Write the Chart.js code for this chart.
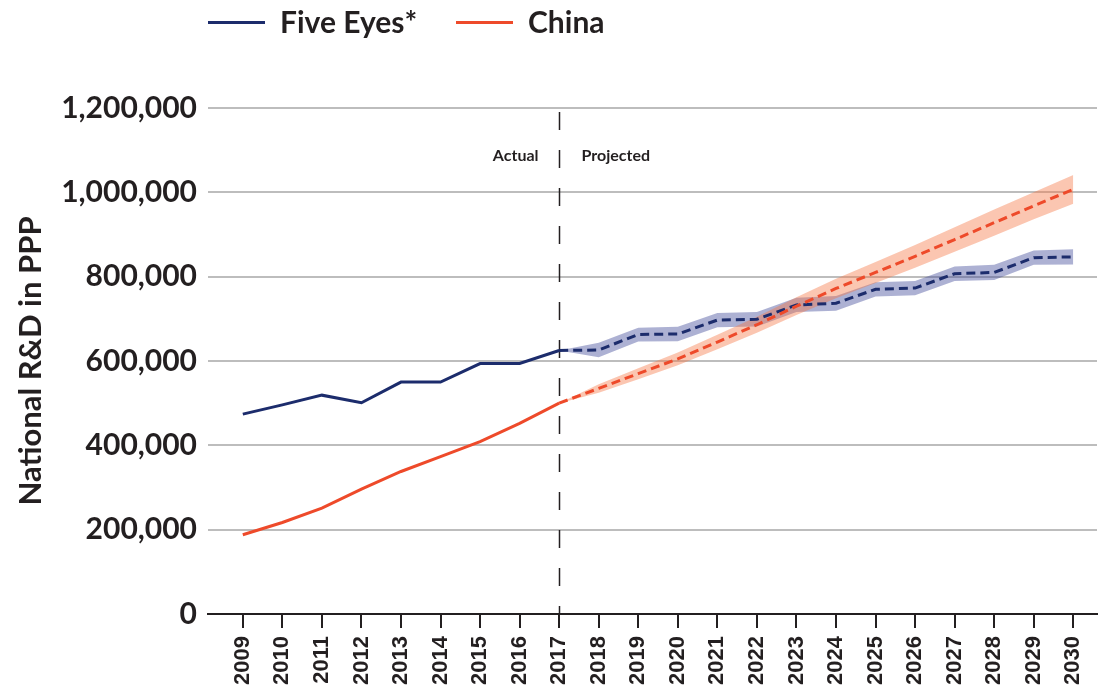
<!DOCTYPE html>
<html>
<head>
<meta charset="utf-8">
<script src="https://cdn.jsdelivr.net/npm/chart.js@4.4.0/dist/chart.umd.min.js"></script>
<style>
  html, body { margin: 0; padding: 0; background: #fff; }
  #wrap { width: 1099px; height: 690px; }
</style>
</head>
<body>
<div id="wrap"><canvas id="chart"></canvas></div>
<script>
// data
const years = [2009, 2010, 2011, 2012, 2013, 2014, 2015, 2016, 2017, 2018, 2019,
               2020, 2021, 2022, 2023, 2024, 2025, 2026, 2027, 2028, 2029, 2030];
const actualYears = [2009, 2010, 2011, 2012, 2013, 2014, 2015, 2016, 2017];
const projectedYears = [2017, 2018, 2019, 2020, 2021, 2022, 2023, 2024, 2025, 2026, 2027, 2028, 2029, 2030];

const fiveEyesActual = [474000, 496000, 519000, 501000, 550000, 550000, 594000, 594000, 625000];
const fiveEyesProjected = [625000, 626000, 663000, 664000, 697000, 699000, 733000, 737000, 770000, 773000, 807000, 810000, 845000, 847000];
const fiveEyesLow = [625000, 609000, 646000, 647000, 680000, 682000, 716000, 719000, 753000, 756000, 790000, 792000, 828000, 829000];
const fiveEyesHigh = [625000, 643000, 679000, 681000, 714000, 716000, 750000, 754000, 787000, 790000, 824000, 828000, 862000, 865000];

const chinaActual = [188000, 217000, 251000, 296000, 338000, 373000, 409000, 452000, 500000];
const chinaProjected = [500000, 535000, 570000, 605000, 645000, 686000, 730000, 772000, 810000, 848000, 888000, 928000, 968000, 1007000];
const chinaLow = [500000, 525000, 557000, 590000, 628000, 667000, 709000, 749000, 785000, 821000, 859000, 897000, 936000, 973000];
const chinaHigh = [500000, 545000, 583000, 620000, 662000, 705000, 751000, 795000, 835000, 875000, 917000, 959000, 1000000, 1041000];

const yTicks = [0, 200000, 400000, 600000, 800000, 1000000, 1200000];

const NAVY = '#1c2c6c';
const RED = '#ee4a2a';
const INK = '#231f20';

function pts(xs, ys) {
    return xs.map((x, i) => ({ x: x, y: ys[i] }));
}

// vertical divider + Actual / Projected
const dividerPlugin = {
    id: 'divider',
    beforeDatasetsDraw(chart) {
        const { ctx, chartArea, scales } = chart;
        const x = Math.round(scales.x.getPixelForValue(2017)) + 0.5;
        ctx.save();
        ctx.strokeStyle = INK;
        ctx.lineWidth = 1.5;
        ctx.setLineDash([18, 20]);
        ctx.beginPath();
        ctx.moveTo(x, chartArea.top + 4);
        ctx.lineTo(x, chartArea.bottom);
        ctx.stroke();
        ctx.setLineDash([]);
        ctx.fillStyle = INK;
        ctx.font = 'bold 16px Lato';
        ctx.textBaseline = 'middle';
        ctx.textAlign = 'right';
        ctx.fillText('Actual', x - 21, 156);
        ctx.textAlign = 'left';
        ctx.fillText('Projected', x + 22, 156);
        ctx.restore();
    }
};

// legend at the top
const legendPlugin = {
    id: 'topLegend',
    afterDraw(chart) {
        const { ctx, chartArea } = chart;
        const items = [['Five Eyes*', NAVY, 0], ['China', RED, 248]];
        ctx.save();
        ctx.font = 'bold 30px Lato';
        ctx.textBaseline = 'middle';
        ctx.textAlign = 'left';
        items.forEach(it => {
            const x0 = chartArea.left + it[2];
            ctx.fillStyle = it[1];
            ctx.fillRect(x0, 21, 57, 3);
            ctx.fillStyle = INK;
            ctx.fillText(it[0], x0 + 72, 23);
        });
        ctx.restore();
    }
};

const line = (label, data, color, dashed, order) => ({
    label: label,
    data: data,
    borderColor: color,
    borderWidth: 3,
    borderDash: dashed ? [9, 5] : [],
    pointRadius: 0,
    fill: false,
    tension: 0,
    order: order
});

const band = (data, color, fillTo, order) => ({
    data: data,
    borderWidth: 0,
    borderColor: 'rgba(0,0,0,0)',
    backgroundColor: color,
    pointRadius: 0,
    fill: fillTo,
    tension: 0,
    order: order
});

new Chart(document.getElementById('chart'), {
    type: 'line',
    data: {
        datasets: [
            line('Five Eyes*', pts(actualYears, fiveEyesActual), NAVY, false, 2),
            line('Five Eyes* projected', pts(projectedYears, fiveEyesProjected), NAVY, true, 2),
            line('China', pts(actualYears, chinaActual), RED, false, 1),
            line('China projected', pts(projectedYears, chinaProjected), RED, true, 1),
            band(pts(projectedYears, fiveEyesHigh), 'rgba(60,70,150,0.42)', '+1', 10),
            band(pts(projectedYears, fiveEyesLow), 'rgba(0,0,0,0)', false, 10),
            band(pts(projectedYears, chinaHigh), 'rgba(245,120,70,0.42)', '+1', 9),
            band(pts(projectedYears, chinaLow), 'rgba(0,0,0,0)', false, 9)
        ]
    },
    options: {
        responsive: true,
        maintainAspectRatio: false,
        animation: false,
        layout: { padding: { top: 108, left: 10, right: 2, bottom: 0 } },
        plugins: {
            legend: { display: false },
            tooltip: { enabled: false }
        },
        scales: {
            x: {
                type: 'linear',
                min: 2008.12,
                max: 2030.6,
                afterBuildTicks: axis => { axis.ticks = years.map(v => ({ value: v })); },
                afterFit: axis => {
                    axis.height = 76;
                    axis.paddingLeft = 0;
                    axis.paddingRight = 0;
                },
                ticks: {
                    autoSkip: false,
                    maxRotation: 90,
                    minRotation: 90,
                    padding: 8,
                    color: INK,
                    font: { family: 'Liberation Sans', weight: 'bold', size: 22 },
                    callback: v => String(v)
                },
                grid: {
                    drawOnChartArea: false,
                    drawTicks: true,
                    tickLength: 14,
                    color: INK,
                    lineWidth: 2
                },
                border: { display: true, color: INK, width: 2 }
            },
            y: {
                min: 0,
                max: 1200000,
                afterBuildTicks: axis => { axis.ticks = yTicks.map(v => ({ value: v })); },
                afterFit: axis => {
                    axis.width = 198;
                    axis.paddingTop = 0;
                    axis.paddingBottom = 0;
                },
                ticks: {
                    padding: 11,
                    color: INK,
                    font: { family: 'Lato', weight: 'bold', size: 30 },
                    callback: v => v.toLocaleString('en-US')
                },
                grid: {
                    drawTicks: false,
                    color: '#bdbdbd',
                    lineWidth: 2
                },
                border: { display: false },
                title: {
                    display: true,
                    text: 'National R&D in PPP',
                    color: INK,
                    font: { family: 'Lato', weight: 'bold', size: 31 },
                    padding: { top: 2, bottom: 14 }
                }
            }
        }
    },
    plugins: [dividerPlugin, legendPlugin]
});
</script>
</body>
</html>
